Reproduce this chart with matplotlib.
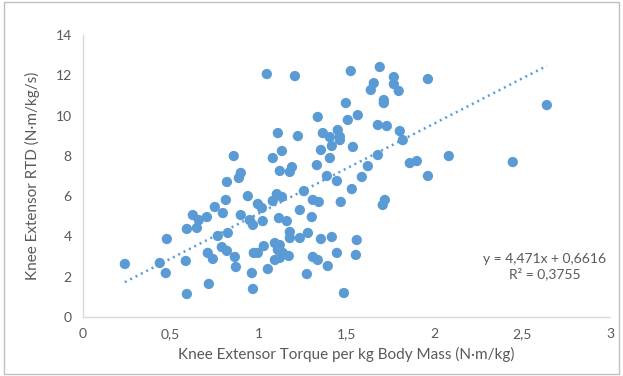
import matplotlib
matplotlib.use("Agg")
import matplotlib.pyplot as plt
import numpy as np
from matplotlib.patches import Rectangle

# torque per kg (N·m/kg) vs RTD (N·m/kg/s)
torque = [1.047, 1.207, 1.525, 1.690, 1.656, 1.770, 1.770, 1.639, 1.798, 1.964,
          1.713, 1.713, 1.497, 1.565, 1.508, 1.337, 1.451, 1.679, 1.730, 1.804,
          1.821, 1.463, 1.537, 1.366, 1.406, 1.417, 1.110, 1.224, 1.355, 1.133,
          1.081, 0.859, 1.406, 1.679, 1.622, 1.861, 1.901, 2.083, 2.447, 2.641,
          1.332, 1.121, 1.190, 1.178, 0.899, 0.888, 0.820, 1.389, 1.588, 1.964,
          1.446, 1.531, 1.258, 1.104, 1.133, 1.081, 0.939, 0.814, 0.996, 1.019,
          1.309, 1.343, 1.468, 1.719, 1.707, 0.751, 0.797, 0.899, 1.235, 1.303,
          0.626, 0.706, 0.660, 0.592, 0.649, 0.950, 0.968, 1.024, 1.116, 1.161,
          0.768, 0.825, 0.791, 0.820, 0.865, 0.871, 0.711, 0.740, 0.586, 0.438,
          0.472, 0.478, 0.239, 0.592, 0.717, 0.962, 0.968, 0.973, 0.996, 1.030,
          1.093, 1.110, 1.121, 1.093, 1.053, 1.178, 1.178, 1.235, 1.281, 1.138,
          1.172, 1.121, 1.275, 1.309, 1.337, 1.355, 1.417, 1.446, 1.394, 1.486,
          1.559, 1.554, 1.463]
rtd = [12.06, 11.96, 12.21, 12.41, 11.61, 11.91, 11.56, 11.27, 11.22, 11.81,
       10.77, 10.62, 10.62, 10.02, 9.78, 9.93, 9.28, 9.53, 9.48, 9.23,
       8.78, 8.78, 8.44, 9.13, 8.93, 8.49, 9.13, 8.98, 8.29, 8.24,
       7.89, 7.99, 7.89, 8.04, 7.49, 7.64, 7.74, 7.99, 7.69, 10.52,
       7.54, 7.25, 7.44, 7.20, 7.15, 6.90, 6.70, 7.00, 6.95, 7.00,
       6.75, 6.35, 6.25, 6.10, 5.96, 5.76, 6.00, 5.81, 5.61, 5.41,
       5.81, 5.71, 5.71, 5.81, 5.56, 5.46, 5.16, 5.06, 5.31, 4.96,
       5.06, 4.96, 4.81, 4.37, 4.42, 4.81, 4.57, 4.76, 4.91, 4.76,
       4.02, 4.17, 3.47, 3.28, 2.98, 2.48, 3.18, 2.88, 2.78, 2.68,
       2.18, 3.87, 2.63, 1.14, 1.64, 2.18, 1.39, 3.18, 3.18, 3.52,
       3.67, 3.33, 2.93, 2.83, 2.38, 4.22, 3.92, 3.92, 4.17, 3.18,
       3.03, 3.57, 2.13, 2.98, 2.83, 3.87, 3.97, 3.18, 2.53, 1.19,
       3.82, 3.08, 8.95]

# linha de tendencia do Excel
slope = 4.471
intercept = 0.6616
eq_text = "y = 4,471x + 0,6616\nR² = 0,3755"

xticks = [0, 0.5, 1, 1.5, 2, 2.5, 3]
xtick_labels = ["0", "0,5", "1", "1,5", "2", "2,5", "3"]
yticks = [0, 2, 4, 6, 8, 10, 12, 14]

blue = "#5b9bd5"
grey_txt = "#595959"

plt.rcParams['font.family'] = ['Lato', 'DejaVu Sans']

fig = plt.figure(figsize=(6.23, 3.76), dpi=100)
ax = fig.add_axes([0.133, 0.157, 0.846, 0.750])

ax.scatter(torque, rtd, s=55, color=blue, edgecolors='none', zorder=3)

xl = np.array([min(torque), max(torque)])
ax.plot(xl, slope * xl + intercept, color=blue, linewidth=1.8,
        linestyle=(0, (0.8, 1.6)), zorder=2)

ax.set_xlim(0, 3)
ax.set_ylim(0, 14)
ax.set_xticks(xticks)
ax.set_xticklabels(xtick_labels)
ax.set_yticks(yticks)
ax.tick_params(length=0, labelsize=10, colors=grey_txt, pad=8)

for s in ['top', 'right']:
    ax.spines[s].set_visible(False)
for s in ['left', 'bottom']:
    ax.spines[s].set_color('#d9d9d9')
    ax.spines[s].set_linewidth(1.0)

ax.set_xlabel("Knee Extensor Torque per kg Body Mass (N·m/kg)", fontsize=11,
              color=grey_txt, labelpad=5)
ax.set_ylabel("Knee Extensor RTD (N·m/kg/s)", fontsize=11, color=grey_txt,
              labelpad=11)

ax.text(2.63, 2.5, eq_text, ha='center', va='center', fontsize=10,
        color=grey_txt, linespacing=1.25)

# moldura do grafico
fig.patches.append(Rectangle((0.006, 0.006), 0.988, 0.988, transform=fig.transFigure,
                             fill=False, edgecolor='#bfbfbf', linewidth=1.0))

fig.savefig("out.png", dpi=100)
